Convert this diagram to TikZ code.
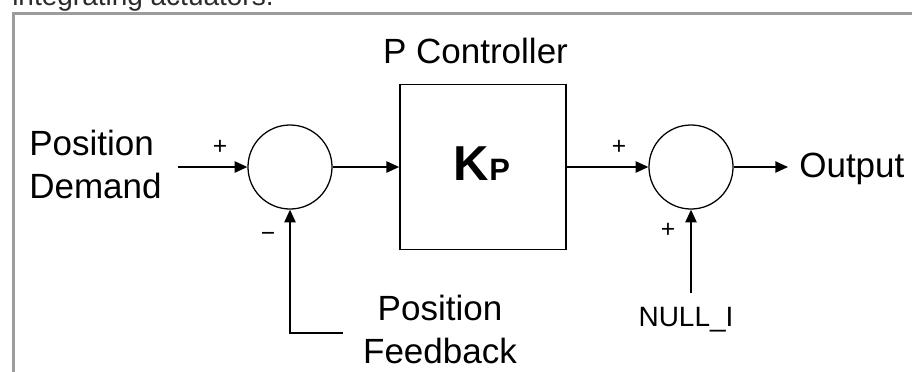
\documentclass[tikz,border=0pt]{standalone}
\usepackage{fontspec}
\setmainfont{Liberation Sans}
\usepackage{tikz}
\usetikzlibrary{arrows.meta, positioning, shapes.geometric}
\definecolor{FrameGrey}{HTML}{9C9C9C}
\definecolor{TitleInk}{HTML}{2B2B2B}

\begin{document}
\begin{tikzpicture}[x=0.025cm, y=-0.025cm,
  sumj/.style={circle, draw=black, line width=0.9pt,
     minimum size=2.1cm, inner sep=0pt},
  gainbox/.style={rectangle, draw=black, line width=1.2pt,
     minimum width=4.15cm, minimum height=4.125cm, inner sep=0pt},
  lbl/.style={inner sep=0pt, font=\fontsize{24.9}{30.6}\selectfont},
  sgn/.style={inner sep=0pt, font=\fontsize{17.5}{20}\selectfont},
  sig/.style={line width=1.1pt, -{Triangle[length=9pt, width=8pt]}}]
  \useasboundingbox (0,0) rectangle (912,371);
  \clip (0,0) rectangle (912,371);
  % outer frame, cut off on the right and at the bottom
  \draw[FrameGrey, line width=2.6pt] (13.5,400) -- (13.5,13.5) -- (950,13.5);
  \node[anchor=base west, inner sep=0pt, text=TitleInk,
     font=\fontsize{19.9}{24}\selectfont] (title) at (12,5) {integrating actuators.};
  % blocks
  \node[sumj] (sum1) at (290,167) {};
  \node[gainbox] (ctrl) at (483,167) {};
  \node[inner sep=0pt, anchor=base] (kp) at (482,180)
     {\bfseries\fontsize{34.9}{36}\selectfont K\fontsize{22}{24}\selectfont P};
  \node[lbl, anchor=base] (ctrlname) at (475.5,63) {P Controller};
  \node[sumj] (sum2) at (691,167) {};
  % signal labels
  \node[lbl, anchor=north west, align=left] (demand) at (29,130) {Position\\Demand};
  \node[lbl, anchor=north, align=center] (feedback) at (440,295) {Position\\Feedback};
  \node[lbl, anchor=base west] (output) at (799,177) {Output};
  \node[inner sep=0pt, anchor=base, font=\fontsize{19.9}{24}\selectfont] (null) at (686,326) {NULL\_I};
  \coordinate (inp) at (178,167);
  \coordinate (outp) at (788,167);
  \coordinate (fbend) at (343,333);
  \coordinate (nullend) at (691,293);
  % connectors
  \draw[sig] (inp) -- (sum1.west);
  \draw[sig] (sum1.east) -- (ctrl.west);
  \draw[sig] (ctrl.east) -- (sum2.west);
  \draw[sig] (sum2.east) -- (outp);
  \draw[sig] (fbend) -| (sum1.south);
  \draw[sig] (nullend) -- (sum2.south);
  % signs
  \node[sgn] (p1) at (220,147) {+};
  \node[sgn] (m1) at (268,237) {−};
  \node[sgn] (p2) at (619,147) {+};
  \node[sgn] (p3) at (668,230) {+};
\end{tikzpicture}
\end{document}
